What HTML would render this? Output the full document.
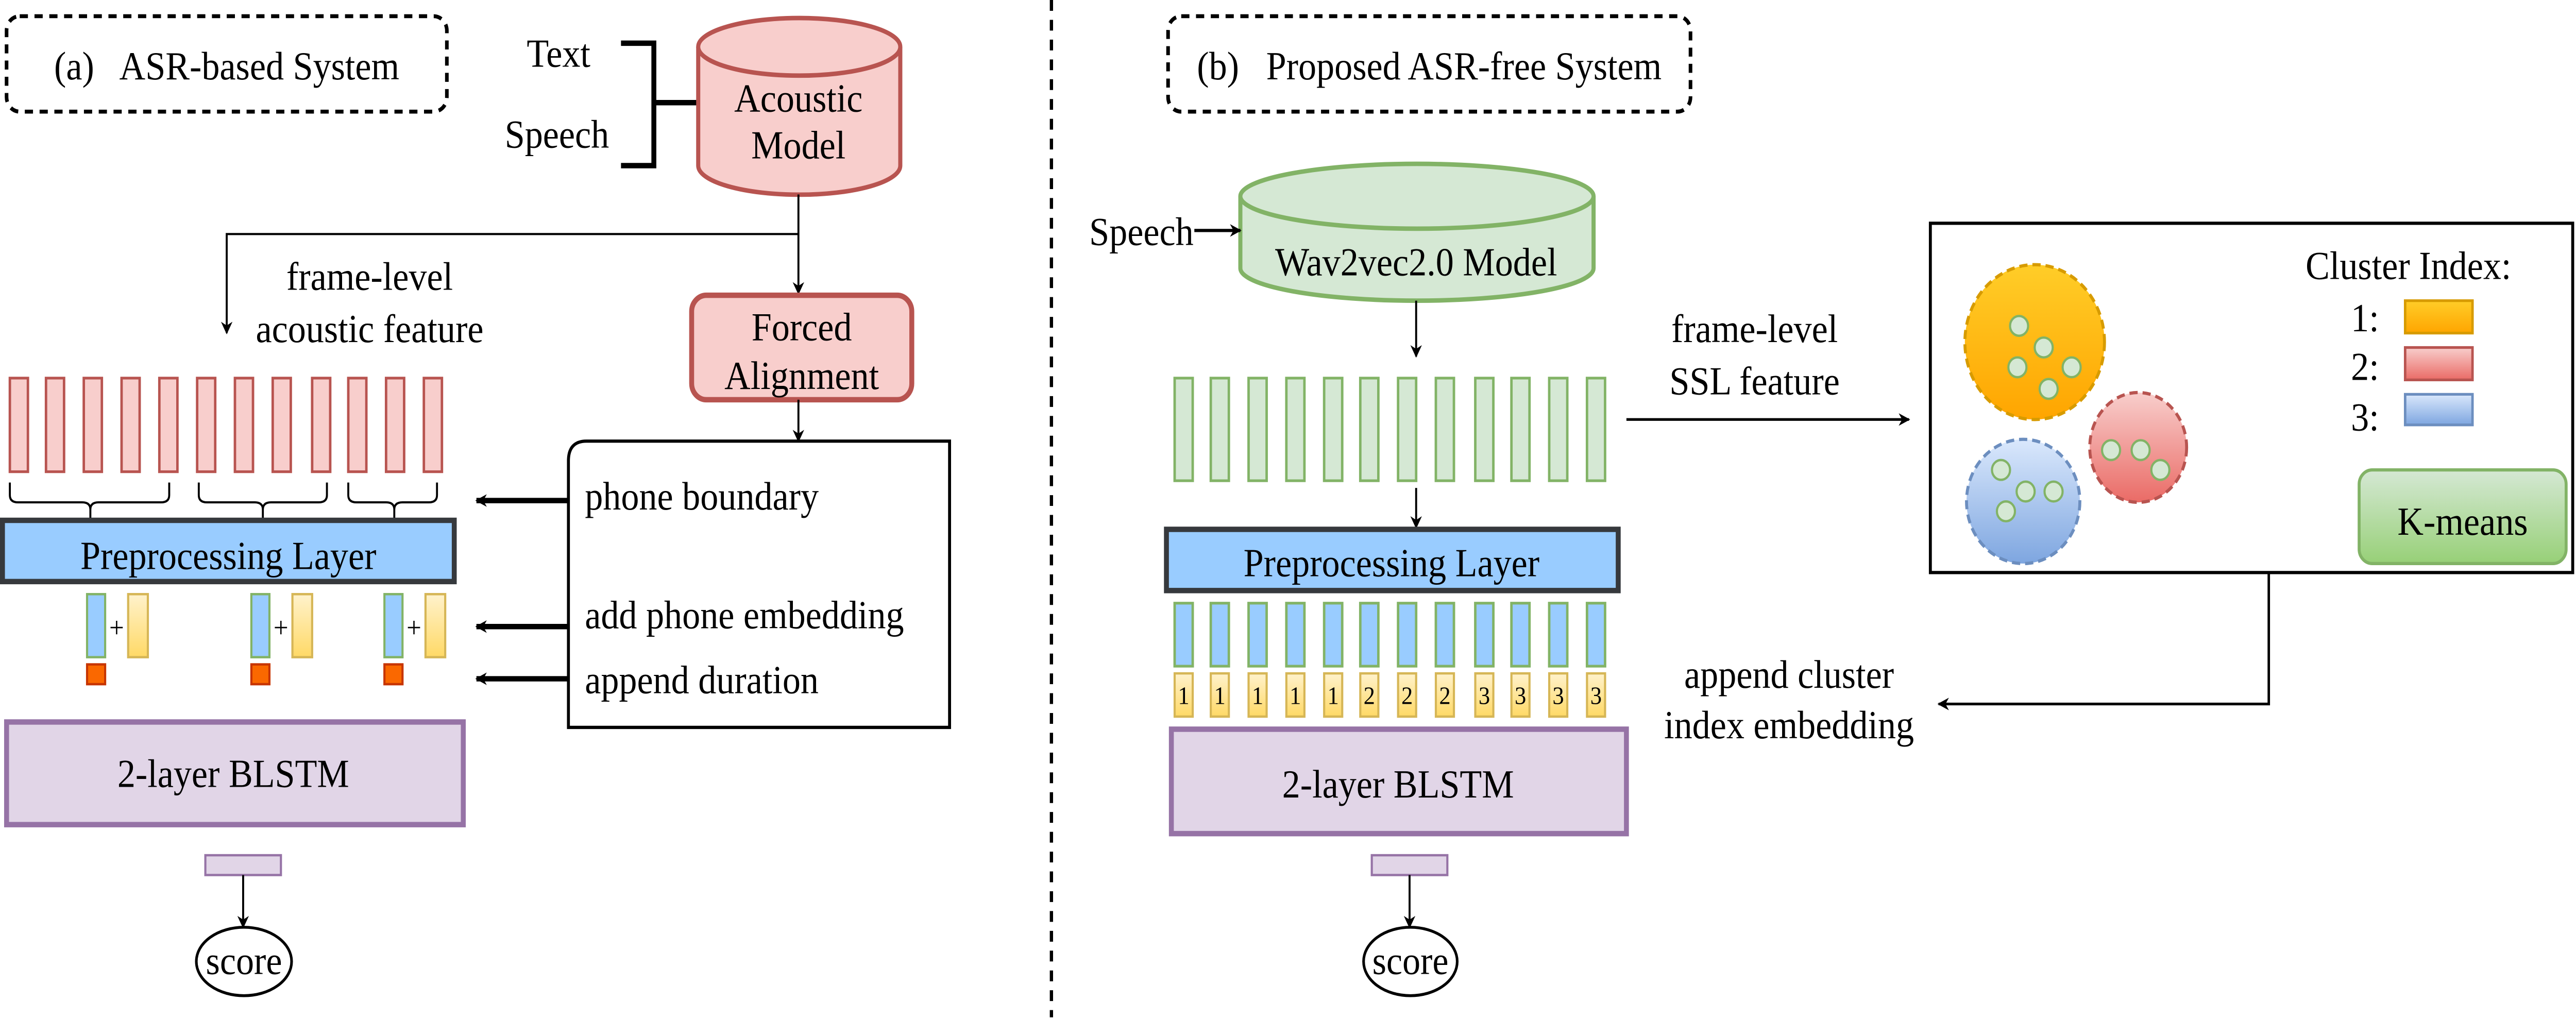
<!DOCTYPE html>
<html><head><meta charset="utf-8"><style>
html,body{margin:0;padding:0;background:#fff;overflow:hidden;width:100vw;height:100vh}
svg{display:block;position:absolute;left:0;top:0;width:100vw;height:100vh}
text{font-family:"Liberation Serif",serif;font-size:22px;fill:#000}
</style></head><body>
<svg viewBox="0 0 1568 565.4" preserveAspectRatio="none" xmlns="http://www.w3.org/2000/svg">
<defs>
<marker id="a" viewBox="0 0 10 10" refX="9" refY="5" markerWidth="7" markerHeight="7" orient="auto" markerUnits="userSpaceOnUse"><path d="M0,0 L10,5 L0,10 L3,5 Z" fill="#000"/></marker>
<linearGradient id="gy" x1="0" y1="0" x2="0" y2="1"><stop offset="0" stop-color="#fff2cc"/><stop offset="1" stop-color="#ffd966"/></linearGradient>
<linearGradient id="go" x1="0" y1="0" x2="0" y2="1"><stop offset="0" stop-color="#ffcd28"/><stop offset="1" stop-color="#ffa500"/></linearGradient>
<linearGradient id="gr" x1="0" y1="0" x2="0" y2="1"><stop offset="0" stop-color="#f8cecc"/><stop offset="1" stop-color="#ea6b66"/></linearGradient>
<linearGradient id="gb" x1="0" y1="0" x2="0" y2="1"><stop offset="0" stop-color="#dae8fc"/><stop offset="1" stop-color="#7ea6e0"/></linearGradient>
<linearGradient id="gg" x1="0" y1="0" x2="0" y2="1"><stop offset="0" stop-color="#d5e8d4"/><stop offset="1" stop-color="#97d077"/></linearGradient>
</defs>

<line x1="640" y1="0" x2="640" y2="565" stroke="#000" stroke-width="2" stroke-dasharray="6,5"/>

<!-- LEFT -->
<rect x="4" y="9" width="268" height="53" rx="8" fill="none" stroke="#000" stroke-width="2.2" stroke-dasharray="5,4"/>
<text x="138" y="44" text-anchor="middle">(a)&#160;&#160; ASR-based System</text>

<text x="340" y="37" text-anchor="middle">Text</text>
<text x="339" y="82" text-anchor="middle">Speech</text>
<path d="M378,24 H398 V92 H378 M398,57 H425" fill="none" stroke="#000" stroke-width="3"/>

<path d="M425,26 V92 A61,16 0 0 0 548,92 V26" fill="#f8cecc" stroke="#b85450" stroke-width="2.5"/>
<ellipse cx="486.5" cy="26" rx="61.5" ry="16" fill="#f8cecc" stroke="#b85450" stroke-width="2.5"/>
<text x="486" y="62" text-anchor="middle">Acoustic</text>
<text x="486" y="88" text-anchor="middle">Model</text>

<line x1="486" y1="108" x2="486" y2="163" stroke="#000" stroke-width="1.2" marker-end="url(#a)"/>
<path d="M486,130 H138 V185" fill="none" stroke="#000" stroke-width="1.2" marker-end="url(#a)"/>
<text x="225" y="161" text-anchor="middle">frame-level</text>
<text x="225" y="190" text-anchor="middle">acoustic feature</text>

<rect x="421" y="164" width="134" height="58" rx="9" fill="#f8cecc" stroke="#b85450" stroke-width="3"/>
<text x="488" y="189" text-anchor="middle">Forced</text>
<text x="488" y="216" text-anchor="middle">Alignment</text>
<line x1="486" y1="222" x2="486" y2="245" stroke="#000" stroke-width="1.2" marker-end="url(#a)"/>

<path d="M346,404 V256 Q346,245 357,245 H578 V404 Z" fill="#fff" stroke="#000" stroke-width="1.8"/>
<text x="356" y="283">phone boundary</text>
<text x="356" y="349">add phone embedding</text>
<text x="356" y="385">append duration</text>
<g stroke="#000" stroke-width="3" marker-end="url(#a)">
<line x1="346" y1="278" x2="290" y2="278"/>
<line x1="346" y1="348" x2="290" y2="348"/>
<line x1="346" y1="377" x2="290" y2="377"/>
</g>

<g fill="#f8cecc" stroke="#b85450" stroke-width="1.5">
<rect x="6" y="210" width="11" height="52"/><rect x="28" y="210" width="11" height="52"/><rect x="51" y="210" width="11" height="52"/><rect x="74" y="210" width="11" height="52"/><rect x="97" y="210" width="11" height="52"/><rect x="120" y="210" width="11" height="52"/><rect x="143" y="210" width="11" height="52"/><rect x="166" y="210" width="11" height="52"/><rect x="190" y="210" width="11" height="52"/><rect x="212" y="210" width="11" height="52"/><rect x="235" y="210" width="11" height="52"/><rect x="258" y="210" width="11" height="52"/>
</g>
<g fill="none" stroke="#000" stroke-width="1.2">
<path d="M6,268 V275 Q6,279 11,279 H50 Q55,279 55,283 V289 M55,283 Q55,279 60,279 H98 Q103,279 103,275 V268"/>
<path d="M121,268 V275 Q121,279 126,279 H155 Q160,279 160,283 V289 M160,283 Q160,279 165,279 H194 Q199,279 199,275 V268"/>
<path d="M212,268 V275 Q212,279 217,279 H235 Q240,279 240,283 V289 M240,283 Q240,279 245,279 H261 Q266,279 266,275 V268"/>
</g>

<rect x="1.5" y="289" width="275" height="34" fill="#99ccff" stroke="#36393d" stroke-width="3"/>
<text x="139" y="316" text-anchor="middle">Preprocessing Layer</text>

<g>
<rect x="53" y="330" width="11" height="35" fill="#99ccff" stroke="#82b366" stroke-width="1.3"/>
<rect x="78" y="330" width="12" height="35" fill="url(#gy)" stroke="#d6b656" stroke-width="1.3"/>
<text x="71" y="354" text-anchor="middle" style="font-size:16px">+</text>
<rect x="53" y="369" width="11" height="11" fill="#fa6800" stroke="#c73500" stroke-width="1.3"/>
<rect x="153" y="330" width="11" height="35" fill="#99ccff" stroke="#82b366" stroke-width="1.3"/>
<rect x="178" y="330" width="12" height="35" fill="url(#gy)" stroke="#d6b656" stroke-width="1.3"/>
<text x="171" y="354" text-anchor="middle" style="font-size:16px">+</text>
<rect x="153" y="369" width="11" height="11" fill="#fa6800" stroke="#c73500" stroke-width="1.3"/>
<rect x="234" y="330" width="11" height="35" fill="#99ccff" stroke="#82b366" stroke-width="1.3"/>
<rect x="259" y="330" width="12" height="35" fill="url(#gy)" stroke="#d6b656" stroke-width="1.3"/>
<text x="252" y="354" text-anchor="middle" style="font-size:16px">+</text>
<rect x="234" y="369" width="11" height="11" fill="#fa6800" stroke="#c73500" stroke-width="1.3"/>
</g>

<rect x="4" y="401" width="278" height="57" fill="#e1d5e7" stroke="#9673a6" stroke-width="3"/>
<text x="142" y="437" text-anchor="middle">2-layer BLSTM</text>
<rect x="125" y="475" width="46" height="11" fill="#e1d5e7" stroke="#9673a6" stroke-width="1.3"/>
<line x1="148" y1="486" x2="148" y2="515" stroke="#000" stroke-width="1.2" marker-end="url(#a)"/>
<ellipse cx="148.5" cy="534" rx="29" ry="19" fill="#fff" stroke="#000" stroke-width="1.6"/>
<text x="148.5" y="541" text-anchor="middle">score</text>

<!-- RIGHT -->
<rect x="711" y="9" width="318" height="53" rx="8" fill="none" stroke="#000" stroke-width="2.2" stroke-dasharray="5,4"/>
<text x="870" y="44" text-anchor="middle">(b)&#160;&#160; Proposed ASR-free System</text>

<path d="M755,109 V149 A107.5,18 0 0 0 970,149 V109" fill="#d5e8d4" stroke="#82b366" stroke-width="2.5"/>
<ellipse cx="862.5" cy="109" rx="107.5" ry="18" fill="#d5e8d4" stroke="#82b366" stroke-width="2.5"/>
<text x="862" y="153" text-anchor="middle">Wav2vec2.0 Model</text>
<text x="663" y="136">Speech</text>
<line x1="727" y1="128" x2="755" y2="128" stroke="#000" stroke-width="1.8" marker-end="url(#a)"/>
<line x1="862" y1="167" x2="862" y2="198" stroke="#000" stroke-width="1.2" marker-end="url(#a)"/>

<g fill="#d5e8d4" stroke="#82b366" stroke-width="1.5">
<rect x="715" y="210" width="11" height="57"/><rect x="737" y="210" width="11" height="57"/><rect x="760" y="210" width="11" height="57"/><rect x="783" y="210" width="11" height="57"/><rect x="806" y="210" width="11" height="57"/><rect x="828" y="210" width="11" height="57"/><rect x="851" y="210" width="11" height="57"/><rect x="874" y="210" width="11" height="57"/><rect x="898" y="210" width="11" height="57"/><rect x="920" y="210" width="11" height="57"/><rect x="943" y="210" width="11" height="57"/><rect x="966" y="210" width="11" height="57"/>
</g>
<line x1="862" y1="271" x2="862" y2="293" stroke="#000" stroke-width="1.2" marker-end="url(#a)"/>

<text x="1068" y="190" text-anchor="middle">frame-level</text>
<text x="1068" y="219" text-anchor="middle">SSL feature</text>
<line x1="990" y1="233" x2="1162" y2="233" stroke="#000" stroke-width="1.5" marker-end="url(#a)"/>

<rect x="1175" y="124" width="391" height="194" fill="#fff" stroke="#000" stroke-width="1.8"/>
<ellipse cx="1238.5" cy="190" rx="42.5" ry="43" fill="url(#go)" stroke="#d79b00" stroke-width="1.8" stroke-dasharray="5,3"/>
<ellipse cx="1301.5" cy="248.5" rx="29.5" ry="30.5" fill="url(#gr)" stroke="#b85450" stroke-width="1.8" stroke-dasharray="5,3"/>
<ellipse cx="1231.5" cy="278.5" rx="34.5" ry="34.5" fill="url(#gb)" stroke="#6c8ebf" stroke-width="1.8" stroke-dasharray="5,3"/>
<g fill="#d5e8d4" stroke="#82b366" stroke-width="1.3">
<circle cx="1229" cy="181" r="5.5"/><circle cx="1244" cy="193" r="5.5"/><circle cx="1228" cy="204" r="5.5"/><circle cx="1261" cy="204" r="5.5"/><circle cx="1247" cy="216" r="5.5"/>
<circle cx="1285" cy="250" r="5.5"/><circle cx="1303" cy="250" r="5.5"/><circle cx="1315" cy="261" r="5.5"/>
<circle cx="1218" cy="261" r="5.5"/><circle cx="1233" cy="273" r="5.5"/><circle cx="1250" cy="273" r="5.5"/><circle cx="1221" cy="284" r="5.5"/>
</g>
<text x="1466" y="155" text-anchor="middle">Cluster Index:</text>
<text x="1431" y="184">1:</text>
<text x="1431" y="211">2:</text>
<text x="1431" y="239">3:</text>
<rect x="1464" y="167" width="41" height="18" fill="url(#go)" stroke="#d79b00" stroke-width="1.5"/>
<rect x="1464" y="193" width="41" height="18" fill="url(#gr)" stroke="#b85450" stroke-width="1.5"/>
<rect x="1464" y="219" width="41" height="17" fill="url(#gb)" stroke="#6c8ebf" stroke-width="1.5"/>
<rect x="1436" y="261" width="126" height="52" rx="8" fill="url(#gg)" stroke="#82b366" stroke-width="1.8"/>
<text x="1499" y="297" text-anchor="middle">K-means</text>

<path d="M1381,318 V391 H1180" fill="none" stroke="#000" stroke-width="1.5" marker-end="url(#a)"/>
<text x="1089" y="382" text-anchor="middle">append cluster</text>
<text x="1089" y="410" text-anchor="middle">index embedding</text>

<rect x="710" y="294" width="275" height="34" fill="#99ccff" stroke="#36393d" stroke-width="3"/>
<text x="847" y="320" text-anchor="middle">Preprocessing Layer</text>

<g fill="#99ccff" stroke="#82b366" stroke-width="1.5">
<rect x="715" y="335" width="11" height="35"/><rect x="737" y="335" width="11" height="35"/><rect x="760" y="335" width="11" height="35"/><rect x="783" y="335" width="11" height="35"/><rect x="806" y="335" width="11" height="35"/><rect x="828" y="335" width="11" height="35"/><rect x="851" y="335" width="11" height="35"/><rect x="874" y="335" width="11" height="35"/><rect x="898" y="335" width="11" height="35"/><rect x="920" y="335" width="11" height="35"/><rect x="943" y="335" width="11" height="35"/><rect x="966" y="335" width="11" height="35"/>
</g>
<g fill="url(#gy)" stroke="#d6b656" stroke-width="1.3">
<rect x="715" y="374" width="11" height="24"/><rect x="737" y="374" width="11" height="24"/><rect x="760" y="374" width="11" height="24"/><rect x="783" y="374" width="11" height="24"/><rect x="806" y="374" width="11" height="24"/><rect x="828" y="374" width="11" height="24"/><rect x="851" y="374" width="11" height="24"/><rect x="874" y="374" width="11" height="24"/><rect x="898" y="374" width="11" height="24"/><rect x="920" y="374" width="11" height="24"/><rect x="943" y="374" width="11" height="24"/><rect x="966" y="374" width="11" height="24"/>
</g>
<g text-anchor="middle">
<text x="720.5" y="391" style="font-size:14px">1</text><text x="742.5" y="391" style="font-size:14px">1</text><text x="765.5" y="391" style="font-size:14px">1</text><text x="788.5" y="391" style="font-size:14px">1</text><text x="811.5" y="391" style="font-size:14px">1</text><text x="833.5" y="391" style="font-size:14px">2</text><text x="856.5" y="391" style="font-size:14px">2</text><text x="879.5" y="391" style="font-size:14px">2</text><text x="903.5" y="391" style="font-size:14px">3</text><text x="925.5" y="391" style="font-size:14px">3</text><text x="948.5" y="391" style="font-size:14px">3</text><text x="971.5" y="391" style="font-size:14px">3</text>
</g>

<rect x="713" y="405" width="277" height="58" fill="#e1d5e7" stroke="#9673a6" stroke-width="3"/>
<text x="851" y="443" text-anchor="middle">2-layer BLSTM</text>
<rect x="835" y="475" width="46" height="11" fill="#e1d5e7" stroke="#9673a6" stroke-width="1.3"/>
<line x1="858" y1="486" x2="858" y2="515" stroke="#000" stroke-width="1.2" marker-end="url(#a)"/>
<ellipse cx="858.5" cy="534" rx="28.5" ry="19" fill="#fff" stroke="#000" stroke-width="1.6"/>
<text x="858.5" y="541" text-anchor="middle">score</text>
</svg>
</body></html>
